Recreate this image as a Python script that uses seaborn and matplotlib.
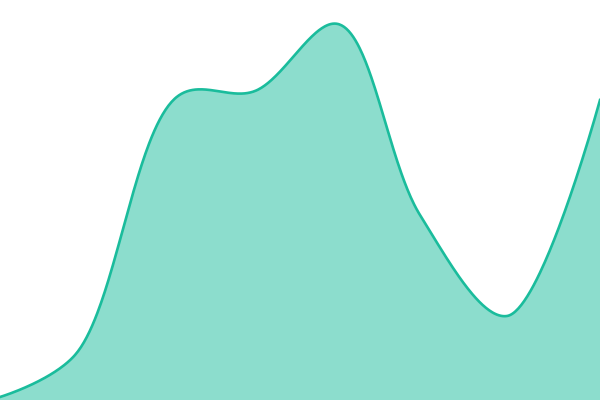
import numpy as np
import pandas as pd
import seaborn as sns
from matplotlib import pyplot as plt

# values
days = [0, 75, 178, 255, 338, 420, 507, 600]
values = [3, 45, 304, 309, 376, 185, 84, 300]

line_color = "#1abc9c"
W, H = 600, 400


def catmull_rom(px, py, alpha=0.5, n=80):
    # centripetal Catmull-Rom in pixel space, same rules as d3.curveCatmullRom
    pts = np.column_stack([px, py]).astype(float)
    k = len(pts)
    out = []
    for i in range(k - 1):
        p1, p2 = pts[i], pts[i + 1]
        p0 = pts[i - 1] if i > 0 else None
        p3 = pts[i + 2] if i + 2 < k else None
        l12 = np.linalg.norm(p2 - p1)
        l12_a, l12_2a = l12**alpha, l12**(2 * alpha)
        c1 = p1.copy()
        if p0 is not None:
            l01 = np.linalg.norm(p1 - p0)
            l01_a, l01_2a = l01**alpha, l01**(2 * alpha)
            a = 2 * l01_2a + 3 * l01_a * l12_a + l12_2a
            m = 3 * l01_a * (l01_a + l12_a)
            c1 = (p1 * a - p0 * l12_2a + p2 * l01_2a) / m
        c2 = p2.copy()
        if p3 is not None:
            l23 = np.linalg.norm(p3 - p2)
            l23_a, l23_2a = l23**alpha, l23**(2 * alpha)
            b = 2 * l23_2a + 3 * l23_a * l12_a + l12_2a
            m = 3 * l23_a * (l23_a + l12_a)
            c2 = (p2 * b + p1 * l23_2a - p3 * l12_2a) / m
        t = np.linspace(0, 1, n, endpoint=(i == k - 2))[:, None]
        seg = ((1 - t)**3 * p1 + 3 * (1 - t)**2 * t * c1
               + 3 * (1 - t) * t**2 * c2 + t**3 * p2)
        out.append(seg)
    out = np.vstack(out)
    return out[:, 0], out[:, 1]


# x and y scales are 1 unit per pixel, so the curve is built in data units
sx, sy = catmull_rom(days, values)
df = pd.DataFrame({"day": sx, "value": sy})

fig = plt.figure(figsize=(6, 4), dpi=100)
ax = fig.add_axes([0, 0, 1, 1])
ax.fill_between(df["day"], df["value"], 0, color=line_color, alpha=0.5, linewidth=0)
sns.lineplot(data=df, x="day", y="value", sort=False, color=line_color,
             linewidth=1.9, ax=ax)
ax.set_xlim(0, W)
ax.set_ylim(0, H)
ax.axis("off")

plt.savefig("out.png", dpi=100)
